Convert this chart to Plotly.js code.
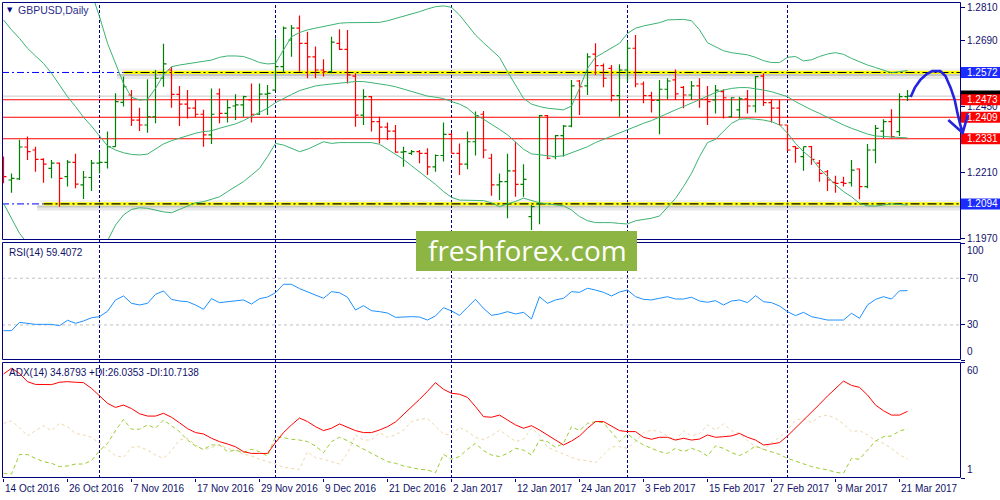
<!DOCTYPE html>
<html><head><meta charset="utf-8">
<script src="https://cdn.plot.ly/plotly-3.0.1.min.js"></script>
<style>html,body{margin:0;padding:0;background:#fff;}#chart{width:1000px;height:500px;}</style>
</head><body><div id="chart"></div>
<script>
// ---------- DATA (GBPUSD Daily, 14 Oct 2016 .. 22 Mar 2017) ----------
const opens = [
1.2244,1.2181,1.2185,1.2301,1.2290,1.2256,1.2223,1.2242,1.2193,1.2245,
1.2163,1.2190,1.2242,1.2245,1.2302,1.2463,1.2490,1.2399,1.2381,1.2411,
1.2551,1.2581,1.2492,1.2457,1.2442,1.2420,1.2345,1.2494,1.2423,1.2450,
1.2454,1.2472,1.2420,1.2493,1.2508,1.2593,1.2690,1.2733,1.2678,1.2629,
1.2581,1.2575,1.2678,1.2656,1.2559,1.2417,1.2484,1.2393,1.2373,1.2359,
1.2282,1.2278,1.2284,1.2278,1.2229,1.2270,1.2347,1.2278,1.2239,1.2320,
1.2420,1.2260,1.2163,1.2175,1.2214,1.2165,1.2048,1.2094,1.2415,1.2266,
1.2342,1.2377,1.2541,1.2523,1.2639,1.2597,1.2587,1.2488,1.2581,1.2660,
1.2530,1.2488,1.2470,1.2511,1.2545,1.2518,1.2490,1.2523,1.2474,1.2472,
1.2502,1.2411,1.2436,1.2476,1.2450,1.2559,1.2462,1.2442,1.2381,1.2302,
1.2266,1.2302,1.2242,1.2211,1.2172,1.2172,1.2171,1.2221,1.2157,1.2290,
1.2359,1.2393,1.2357,1.2484];
const highs = [
1.2266,1.2205,1.2327,1.2339,1.2302,1.2260,1.2254,1.2245,1.2254,1.2276,
1.2214,1.2254,1.2284,1.2357,1.2496,1.2557,1.2508,1.2444,1.2547,1.2581,
1.2676,1.2593,1.2523,1.2508,1.2472,1.2436,1.2514,1.2514,1.2472,1.2493,
1.2487,1.2532,1.2532,1.2526,1.2696,1.2739,1.2745,1.2779,1.2720,1.2666,
1.2620,1.2702,1.2729,1.2726,1.2569,1.2511,1.2486,1.2411,1.2390,1.2381,
1.2302,1.2290,1.2290,1.2296,1.2274,1.2390,1.2353,1.2314,1.2357,1.2430,
1.2432,1.2276,1.2205,1.2276,1.2320,1.2238,1.2090,1.2417,1.2417,1.2345,
1.2381,1.2545,1.2545,1.2642,1.2678,1.2605,1.2599,1.2602,1.2684,1.2708,
1.2539,1.2502,1.2545,1.2551,1.2583,1.2523,1.2541,1.2551,1.2523,1.2526,
1.2511,1.2482,1.2484,1.2508,1.2559,1.2569,1.2474,1.2472,1.2381,1.2305,
1.2302,1.2305,1.2254,1.2217,1.2196,1.2193,1.2254,1.2223,1.2312,1.2381,
1.2402,1.2438,1.2496,1.2508];
const lows = [
1.2169,1.2135,1.2181,1.2254,1.2211,1.2171,1.2187,1.2084,1.2157,1.2151,
1.2112,1.2141,1.2205,1.2223,1.2302,1.2448,1.2377,1.2359,1.2353,1.2387,
1.2520,1.2444,1.2377,1.2405,1.2408,1.2302,1.2312,1.2387,1.2390,1.2399,
1.2411,1.2390,1.2417,1.2417,1.2508,1.2571,1.2629,1.2575,1.2551,1.2551,
1.2557,1.2569,1.2654,1.2532,1.2375,1.2381,1.2357,1.2314,1.2326,1.2280,
1.2229,1.2272,1.2242,1.2199,1.2211,1.2248,1.2278,1.2199,1.2220,1.2270,
1.2260,1.2124,1.2108,1.2042,1.2120,1.2120,1.1999,1.2020,1.2256,1.2256,
1.2266,1.2373,1.2417,1.2490,1.2563,1.2518,1.2466,1.2411,1.2539,1.2518,
1.2460,1.2426,1.2347,1.2474,1.2472,1.2442,1.2472,1.2444,1.2381,1.2423,
1.2405,1.2408,1.2405,1.2423,1.2426,1.2450,1.2390,1.2381,1.2286,1.2244,
1.2215,1.2236,1.2175,1.2141,1.2135,1.2157,1.2157,1.2111,1.2151,1.2242,
1.2333,1.2333,1.2341,1.2468];
const closes = [
1.2193,1.2187,1.2301,1.2284,1.2256,1.2239,1.2242,1.2187,1.2246,1.2166,
1.2191,1.2242,1.2245,1.2302,1.2466,1.2520,1.2399,1.2381,1.2411,1.2551,
1.2603,1.2492,1.2457,1.2442,1.2420,1.2345,1.2420,1.2423,1.2444,1.2454,
1.2484,1.2420,1.2493,1.2496,1.2593,1.2733,1.2733,1.2678,1.2629,1.2581,
1.2575,1.2682,1.2656,1.2563,1.2417,1.2484,1.2393,1.2373,1.2359,1.2282,
1.2284,1.2284,1.2278,1.2229,1.2270,1.2347,1.2278,1.2239,1.2320,1.2415,
1.2290,1.2163,1.2175,1.2214,1.2165,1.2183,1.2084,1.2415,1.2260,1.2342,
1.2377,1.2523,1.2520,1.2629,1.2597,1.2551,1.2488,1.2581,1.2660,1.2530,
1.2488,1.2470,1.2511,1.2541,1.2494,1.2490,1.2523,1.2474,1.2466,1.2508,
1.2480,1.2480,1.2476,1.2450,1.2557,1.2462,1.2442,1.2381,1.2290,1.2296,
1.2302,1.2256,1.2205,1.2181,1.2169,1.2169,1.2217,1.2157,1.2290,1.2369,
1.2393,1.2339,1.2484,1.2486];

// Bollinger Bands (first bars of upper/lower lie off-screen)
const bbUpper = [
1.3430,1.3412,1.3405,1.3380,1.3340,1.3290,1.3230,1.3170,1.3100,1.3025,
1.2945,1.2862,1.2775,1.2678,1.2605,1.2532,1.2482,1.2472,1.2474,1.2514,
1.2563,1.2593,1.2599,1.2603,1.2608,1.2611,1.2617,1.2627,1.2632,1.2632,
1.2630,1.2620,1.2608,1.2603,1.2605,1.2654,1.2702,1.2717,1.2727,1.2733,
1.2739,1.2746,1.2751,1.2753,1.2753,1.2754,1.2753,1.2754,1.2760,1.2768,
1.2775,1.2785,1.2793,1.2803,1.2811,1.2814,1.2809,1.2781,1.2745,1.2708,
1.2680,1.2654,1.2627,1.2575,1.2526,1.2478,1.2457,1.2448,1.2442,1.2438,
1.2436,1.2450,1.2514,1.2587,1.2627,1.2644,1.2660,1.2678,1.2714,1.2733,
1.2741,1.2747,1.2753,1.2763,1.2765,1.2765,1.2760,1.2727,1.2680,1.2666,
1.2651,1.2644,1.2639,1.2636,1.2627,1.2615,1.2608,1.2608,1.2627,1.2630,
1.2614,1.2618,1.2630,1.2639,1.2644,1.2638,1.2623,1.2611,1.2599,1.2590,
1.2581,1.2571,1.2575,1.2579];
const bbMiddle = [
1.2763,1.2727,1.2696,1.2660,1.2632,1.2605,1.2569,1.2527,1.2484,1.2448,
1.2409,1.2377,1.2339,1.2305,1.2290,1.2280,1.2274,1.2272,1.2275,1.2293,
1.2312,1.2324,1.2333,1.2341,1.2351,1.2357,1.2360,1.2369,1.2377,1.2385,
1.2397,1.2411,1.2426,1.2442,1.2462,1.2478,1.2492,1.2506,1.2514,1.2523,
1.2527,1.2530,1.2535,1.2537,1.2539,1.2539,1.2535,1.2532,1.2526,1.2520,
1.2511,1.2502,1.2494,1.2486,1.2482,1.2477,1.2466,1.2457,1.2442,1.2417,
1.2402,1.2385,1.2365,1.2345,1.2320,1.2293,1.2276,1.2272,1.2268,1.2266,
1.2269,1.2280,1.2290,1.2302,1.2317,1.2329,1.2339,1.2351,1.2365,1.2377,
1.2387,1.2397,1.2411,1.2423,1.2436,1.2448,1.2460,1.2472,1.2486,1.2499,
1.2508,1.2514,1.2517,1.2517,1.2513,1.2508,1.2502,1.2492,1.2484,1.2466,
1.2450,1.2436,1.2423,1.2409,1.2393,1.2381,1.2369,1.2359,1.2348,1.2341,
1.2339,1.2336,1.2335,1.2334];
const bbLower = [
1.2096,1.2042,1.1987,1.1950,1.1915,1.1890,1.1875,1.1868,1.1870,1.1875,
1.1885,1.1900,1.1920,1.1960,1.2017,1.2054,1.2074,1.2080,1.2078,1.2072,
1.2065,1.2062,1.2074,1.2086,1.2098,1.2102,1.2111,1.2120,1.2139,1.2157,
1.2175,1.2199,1.2223,1.2266,1.2314,1.2308,1.2296,1.2284,1.2293,1.2308,
1.2320,1.2314,1.2317,1.2317,1.2317,1.2317,1.2317,1.2311,1.2293,1.2276,
1.2256,1.2233,1.2211,1.2189,1.2165,1.2139,1.2118,1.2108,1.2108,1.2108,
1.2106,1.2098,1.2084,1.2094,1.2103,1.2115,1.2106,1.2098,1.2094,1.2091,
1.2087,1.2072,1.2048,1.2033,1.2026,1.2026,1.2026,1.2023,1.2021,1.2033,
1.2038,1.2042,1.2050,1.2084,1.2114,1.2157,1.2205,1.2266,1.2317,1.2329,
1.2357,1.2387,1.2402,1.2404,1.2402,1.2399,1.2393,1.2381,1.2351,1.2314,
1.2284,1.2260,1.2223,1.2193,1.2163,1.2139,1.2120,1.2096,1.2087,1.2086,
1.2091,1.2094,1.2092,1.2090];

// RSI(14)
const rsiValues = [
25.1,25.1,32.2,31.4,30.5,30.5,30.5,29.4,34.0,31.4,
33.4,36.2,37.1,41.7,51.4,54.8,48.5,47.1,48.5,56.2,
59.1,51.9,50.5,49.9,47.1,43.4,52.5,49.1,49.7,50.2,
51.4,47.9,52.5,53.9,57.6,64.8,64.8,61.1,58.2,55.1,
52.8,58.5,57.6,53.7,42.8,46.5,42.2,41.4,40.2,36.5,
37.1,37.1,36.8,34.2,37.7,44.8,42.0,38.2,45.1,51.9,
44.2,38.2,39.4,41.4,39.4,40.8,35.1,54.2,48.5,51.4,
52.8,58.5,57.9,61.4,59.9,57.9,54.8,58.2,59.9,54.2,
51.9,51.4,52.8,54.2,52.2,52.2,53.7,50.5,49.4,50.8,
47.1,50.5,51.4,49.1,55.1,49.9,49.1,46.2,41.4,38.0,
40.8,37.1,35.7,34.2,34.2,34.2,40.0,35.7,47.1,51.9,
54.2,52.2,59.2,59.4072];
const rsiLevels = [30, 70];

// ADX(14), +DI, -DI
const adxValues = [
53.9,56.8,54.2,50.0,48.6,48.5,48.5,49.7,50.0,49.7,
49.5,46.6,42.7,39.0,36.9,38.1,36.3,33.7,32.5,32.5,
33.9,31.9,29.1,26.1,24.1,23.4,21.2,19.5,18.3,16.9,
14.4,13.5,13.5,13.5,19.0,24.1,28.0,31.5,29.7,27.1,
25.1,26.3,28.5,26.8,25.1,24.1,24.1,25.4,27.1,29.5,
33.2,37.3,41.0,45.1,49.5,46.1,44.1,43.6,42.0,37.3,
32.2,31.9,33.0,30.5,28.0,26.3,27.6,25.4,22.9,20.3,
17.8,19.8,22.4,26.3,29.7,29.7,27.4,25.1,24.6,24.6,
21.7,20.7,21.7,21.7,20.3,21.2,20.3,20.8,22.9,21.7,
22.0,22.4,23.7,21.7,20.3,17.8,18.3,19.0,22.4,26.3,
30.5,34.2,38.5,42.7,46.6,50.3,48.1,47.1,43.2,38.1,
35.2,33.0,33.0,34.8793];
const plusDI = [
3.4,3.0,13.0,12.9,11.0,9.3,8.5,6.8,7.1,8.1,
8.1,9.8,14.9,18.6,25.1,30.8,25.8,25.8,28.0,26.3,
30.5,27.4,24.6,20.3,17.3,15.6,17.8,17.8,14.4,15.2,
13.9,15.6,14.4,12.2,22.0,21.5,20.7,20.3,19.5,17.3,
13.9,19.5,21.7,20.0,17.8,15.6,13.5,11.5,9.3,8.5,
7.1,6.3,5.4,5.1,3.7,13.0,10.5,11.9,15.6,18.6,
14.9,12.7,11.9,13.5,16.1,15.2,12.7,20.3,19.5,16.6,
18.6,27.1,25.1,28.8,29.7,29.1,24.1,19.5,23.4,20.3,
17.8,16.1,14.4,13.5,16.1,14.4,16.1,14.7,12.2,17.3,
16.1,13.9,12.4,14.4,17.3,15.6,14.4,13.0,11.0,9.6,
8.5,6.8,5.9,5.1,3.9,3.4,11.0,10.5,15.2,19.8,
22.0,22.4,24.9,26.0353];
const minusDI = [
28.8,30.0,26.6,22.4,25.1,27.6,25.1,28.8,27.1,23.7,
22.9,21.7,18.6,15.6,12.4,11.5,16.6,16.9,15.2,12.7,
11.0,14.9,20.3,21.2,17.8,15.2,16.6,17.8,16.1,14.9,
13.2,12.2,10.5,9.3,8.1,6.4,5.9,5.4,14.4,11.3,
10.5,9.3,8.1,13.5,22.9,20.3,20.3,24.1,21.7,22.9,
25.4,29.7,30.8,31.3,27.4,23.4,22.9,26.8,24.6,21.7,
20.5,22.5,25.4,22.4,19.5,20.7,26.3,22.9,16.6,14.9,
13.0,11.5,10.2,9.8,8.8,12.7,16.9,16.9,16.1,19.5,
24.1,25.4,24.6,22.4,20.3,25.1,22.4,23.4,28.0,25.4,
28.5,25.1,23.7,20.0,16.9,15.6,19.0,21.7,25.4,30.5,
31.3,29.1,32.2,33.0,31.3,28.5,24.6,25.1,22.9,20.0,
18.6,16.1,12.7,10.7138];

// Time axis labels (bar index of each label) and month separators
const dateIdx = [0,8,16,24,32,40,48,56,64,72,80,88,96,104,112];
const dateLabels = ['14 Oct 2016','26 Oct 2016','7 Nov 2016','17 Nov 2016','29 Nov 2016','9 Dec 2016','21 Dec 2016','2 Jan 2017','12 Jan 2017','24 Jan 2017','3 Feb 2017','15 Feb 2017','27 Feb 2017','9 Mar 2017','21 Mar 2017'];
const monthStarts = [12,34,56,78,98];

// Price axis ticks
const priceTicks = [1.2810,1.2690,1.2570,1.2450,1.2330,1.2210,1.2090,1.1970];

// Drawn objects
const channelLevels = [1.2572, 1.2094];     // yellow highlighted lines
const channelStart = [15, 5];               // bar where yellow part starts
const redLevels = [1.2473, 1.2409, 1.2331];
const arrowX = [113.4,113.9,114.6,115.4,116.1,117.1,117.75,118.4,118.9,119.25,119.6,119.9];
const arrowY = [1.2483,1.2516,1.2545,1.2566,1.2577,1.2577,1.2559,1.2516,1.2472,1.2424,1.2381,1.2352];
const arrowHeadX = [118.1,119.9,120.6];
const arrowHeadY = [1.2399,1.2352,1.2424];

// ---------- sanity ----------
[opens,highs,lows,closes,bbUpper,bbMiddle,bbLower,rsiValues,adxValues,plusDI,minusDI].forEach((a,k)=>{
  if(a.length!==closes.length) throw new Error('array '+k+' length '+a.length);
});

// ---------- LAYOUT GEOMETRY ----------
const W=1000, H=500, ML=2, MR=0, MT=2, MB=22;
const plotW = W-ML-MR, plotH = H-MT-MB;
const fx = px => (px-ML)/plotW;
const fy = py => (H-MB-py)/plotH;
const BAR_PX = 8, X0 = -0.1875;
const xRange = [X0, X0 + (960-ML)/BAR_PX];
const x4Range = [X0, X0 + plotW/BAR_PX];
const yMainRange = [1.19628, 1.28282];
const mainDom = [fy(240), fy(2)], rsiDom = [fy(360), fy(242)], adxDom = [fy(478), fy(362)];
const xDom = [0, fx(960)];

const NAVY = '#000080', TXT = '#10106a';
const FONT = 'Liberation Sans, Arial, sans-serif';

const idx = closes.map((_, i) => i);
const lastClose = closes[closes.length-1];

const traces = [
  {type:'scatter', x:idx, y:bbUpper, mode:'lines', line:{color:'#3cb371', width:1}, hoverinfo:'skip'},
  {type:'scatter', x:idx, y:bbMiddle, mode:'lines', line:{color:'#3cb371', width:1}, hoverinfo:'skip'},
  {type:'scatter', x:idx, y:bbLower, mode:'lines', line:{color:'#3cb371', width:1}, hoverinfo:'skip'},
  {type:'ohlc', x:idx, open:opens, high:highs, low:lows, close:closes, tickwidth:0.38,
   increasing:{line:{color:'#008000', width:1.2}}, decreasing:{line:{color:'#ff0000', width:1.2}}, hoverinfo:'skip'},
  {type:'scatter', x:idx, y:rsiValues, yaxis:'y2', mode:'lines', line:{color:'#1e90ff', width:1}, hoverinfo:'skip'},
  {type:'scatter', x:idx, y:minusDI, yaxis:'y3', mode:'lines', line:{color:'#f0d6a8', width:1, dash:'dot'}, hoverinfo:'skip'},
  {type:'scatter', x:idx, y:plusDI, yaxis:'y3', mode:'lines', line:{color:'#9acd32', width:1, dash:'4px,3px'}, hoverinfo:'skip'},
  {type:'scatter', x:idx, y:adxValues, yaxis:'y3', mode:'lines', line:{color:'#ff0000', width:1}, hoverinfo:'skip'},
  {type:'scatter', x:[arrowX[0]], y:[arrowY[0]], xaxis:'x4', yaxis:'y4', mode:'markers', marker:{size:1, opacity:0}, hoverinfo:'skip'}
];

const shapes = [];
// month separators
monthStarts.forEach(m => shapes.push({type:'line', xref:'x', yref:'paper', x0:m, x1:m, y0:0, y1:1,
  line:{color:NAVY, width:1, dash:'3px,2px'}, layer:'below'}));
// RSI levels
rsiLevels.forEach(l => shapes.push({type:'line', xref:'x domain', yref:'y2', x0:0, x1:1, y0:l, y1:l,
  line:{color:'#c0c0c0', width:1, dash:'3px,3px'}, layer:'below'}));
// bid line
shapes.push({type:'line', xref:'x domain', yref:'y', x0:0, x1:1, y0:lastClose, y1:lastClose, line:{color:'#c8c8c8', width:1}, layer:'below'});
// red levels
redLevels.forEach(l => shapes.push({type:'line', xref:'x domain', yref:'y', x0:0, x1:1, y0:l, y1:l,
  line:{color:'#ff0000', width:1.1}, layer:'below'}));
// highlighted channel lines
channelLevels.forEach((l, k) => {
  const s = channelStart[k];
  shapes.push({type:'line', xref:'x', yref:'y', x0:xRange[0], x1:s, y0:l, y1:l, line:{color:'#0000ff', width:1, dash:'7px,3px,2px,3px'}, layer:'below'});
  shapes.push({type:'rect', xref:'x', yref:'y', ysizemode:'pixel', yanchor:l, x0:s-0.8, x1:xRange[1], y0:-1.5, y1:-3.5, fillcolor:'rgba(0,0,0,0.22)', line:{width:0}, layer:'below'});
  shapes.push({type:'rect', xref:'x', yref:'y', ysizemode:'pixel', yanchor:l, x0:s-0.8, x1:xRange[1], y0:-3.5, y1:-6.5, fillcolor:'rgba(0,0,0,0.09)', line:{width:0}, layer:'below'});
  shapes.push({type:'rect', xref:'x', yref:'y', ysizemode:'pixel', yanchor:l, x0:s-0.5, x1:xRange[1], y0:1.5, y1:4, fillcolor:'rgba(0,0,0,0.06)', line:{width:0}, layer:'below'});
  shapes.push({type:'line', xref:'x', yref:'y', x0:s, x1:xRange[1], y0:l, y1:l, line:{color:'#ffff00', width:3.2}, layer:'below'});
  shapes.push({type:'line', xref:'x', yref:'y', x0:s, x1:xRange[1], y0:l, y1:l, line:{color:'#000000', width:1.1, dash:'9px,3px,2px,3px'}, layer:'below'});
});
// panel borders (half-pixel aligned for crisp 1px lines)
[[2.5,239.5],[242.5,359.5],[362.5,477.5]].forEach(p => shapes.push({type:'rect', xref:'paper', yref:'paper',
  x0:fx(2.5), x1:fx(960.5), y0:fy(p[1]), y1:fy(p[0]), line:{color:NAVY, width:1}, fillcolor:'rgba(0,0,0,0)', layer:'above'}));
// watermark box
shapes.push({type:'rect', xref:'paper', yref:'paper', x0:fx(416), x1:fx(637), y0:fy(271), y1:fy(231),
  fillcolor:'#8db543', line:{width:0}, layer:'above'});
// price label boxes
const priceBoxes = [
  {v:lastClose, c:'#000000', t:''},
  {v:channelLevels[0], c:'#1c2cff', t:channelLevels[0].toFixed(4)},
  {v:redLevels[0], c:'#ff0000', t:redLevels[0].toFixed(4)},
  {v:redLevels[1], c:'#ff0000', t:redLevels[1].toFixed(4)},
  {v:redLevels[2], c:'#ff0000', t:redLevels[2].toFixed(4)},
  {v:channelLevels[1], c:'#1c2cff', t:channelLevels[1].toFixed(4)}
];
priceBoxes.forEach(b => shapes.push({type:'rect', xref:'paper', yref:'y', ysizemode:'pixel', yanchor:b.v,
  x0:fx(961), x1:1, y0:-5.5, y1:5.5, fillcolor:b.c, line:{width:0}, layer:'above'}));
// hand-drawn arrow
const arrowPath = 'M' + arrowX.map((x,i)=>x+','+arrowY[i]).join(' L') +
  ' M' + arrowHeadX.map((x,i)=>x+','+arrowHeadY[i]).join(' L');
shapes.push({type:'path', xref:'x4', yref:'y4', path:arrowPath, line:{color:'#2323e0', width:2.6}, layer:'above'});

const annotations = [];
annotations.push({xref:'paper', yref:'paper', x:fx(5), y:fy(10), xanchor:'left', yanchor:'middle', text:'▼', showarrow:false,
  font:{family:'DejaVu Sans', size:7, color:NAVY}});
annotations.push({xref:'paper', yref:'paper', x:fx(16), y:fy(10), xanchor:'left', yanchor:'middle', text:'GBPUSD,Daily', showarrow:false,
  font:{family:FONT, size:10.5, color:'#2a2a8a'}});
annotations.push({xref:'paper', yref:'paper', x:fx(7), y:fy(252), xanchor:'left', yanchor:'middle',
  text:'RSI(14) ' + rsiValues[rsiValues.length-1].toFixed(4), showarrow:false, font:{family:FONT, size:10, color:TXT}});
annotations.push({xref:'paper', yref:'paper', x:fx(7), y:fy(372), xanchor:'left', yanchor:'middle',
  text:'ADX(14) ' + adxValues[adxValues.length-1].toFixed(4) + ' +DI:' + plusDI[plusDI.length-1].toFixed(4) + ' -DI:' + minusDI[minusDI.length-1].toFixed(4),
  showarrow:false, font:{family:FONT, size:10, color:TXT}});
// inset scale labels of indicator windows
[['100','y2 domain',1,'top'],['0','y2 domain',0,'bottom'],['60','y3 domain',1,'top'],['1','y3 domain',0,'bottom']].forEach(a =>
  annotations.push({xref:'paper', yref:a[1], x:fx(965), y:a[2], xanchor:'left', yanchor:a[3], yshift:a[3]==='top'?-1:1, text:a[0], showarrow:false,
    font:{family:FONT, size:10, color:TXT}}));
// time labels
dateIdx.forEach((d,k) => annotations.push({xref:'x', yref:'paper', x:d, y:0, xanchor:'left', yanchor:'top', yshift:-3, xshift:-1,
  text:dateLabels[k], showarrow:false, font:{family:FONT, size:10, color:TXT}}));
// price box texts
priceBoxes.filter(b=>b.t).forEach(b => annotations.push({xref:'paper', yref:'y', x:fx(961), y:b.v, xanchor:'left', yanchor:'middle', xshift:4,
  text:b.t, showarrow:false, font:{family:FONT, size:10, color:'#ffffff'}}));
// watermark text
annotations.push({xref:'paper', yref:'paper', x:fx(527), y:fy(250), xanchor:'center', yanchor:'middle', text:'freshforex.com', showarrow:false,
  font:{family:'Open Sans', size:28, color:'#ffffff'}});

const axFont = {family:FONT, size:10, color:TXT};
const layout = {
  width:W, height:H, margin:{l:ML, r:MR, t:MT, b:MB, pad:0},
  paper_bgcolor:'#ffffff', plot_bgcolor:'rgba(0,0,0,0)', showlegend:false,
  font:{family:FONT, size:10, color:TXT},
  xaxis:{domain:xDom, range:xRange, anchor:'y3', showgrid:false, zeroline:false, showline:false,
    tickvals:dateIdx, ticks:'outside', ticklen:3, tickcolor:NAVY, showticklabels:false, rangeslider:{visible:false}, fixedrange:true},
  yaxis:{domain:mainDom, range:yMainRange, anchor:'x', side:'right', showgrid:false, zeroline:false, showline:false,
    tickvals:priceTicks, ticktext:priceTicks.map(v=>v.toFixed(4)), ticks:'outside', ticklen:4, tickcolor:NAVY, tickfont:axFont, fixedrange:true},
  yaxis2:{domain:rsiDom, range:[0,101], anchor:'x', side:'right', showgrid:false, zeroline:false, showline:false,
    tickvals:[0,30,70,100], ticktext:['','30','70',''], ticks:'outside', ticklen:4, tickcolor:NAVY, tickfont:axFont, fixedrange:true},
  yaxis3:{domain:adxDom, range:[1,60], anchor:'x', side:'right', showgrid:false, zeroline:false, showline:false,
    tickvals:[1,60], ticktext:['',''], ticks:'outside', ticklen:4, tickcolor:NAVY, tickfont:axFont, fixedrange:true},
  xaxis4:{domain:[0,1], range:x4Range, anchor:'y4', visible:false, fixedrange:true},
  yaxis4:{domain:mainDom, range:yMainRange, anchor:'x4', visible:false, fixedrange:true},
  shapes:shapes, annotations:annotations
};
Plotly.newPlot('chart', traces, layout, {staticPlot:true, displayModeBar:false});
</script>
</body></html>
